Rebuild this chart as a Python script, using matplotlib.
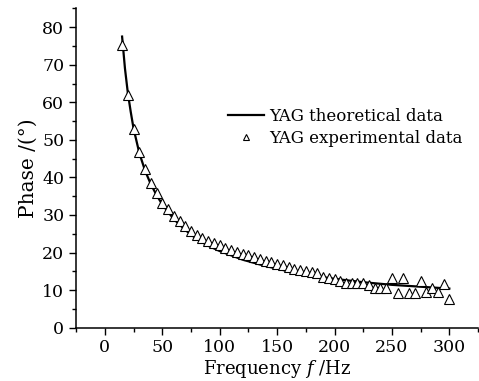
import matplotlib.pyplot as plt
from matplotlib.ticker import MultipleLocator

# theoretical curve
f_theory = [15, 17.5, 20, 22.5, 25, 30, 35, 40, 45, 50, 60, 70, 80, 90, 100,
            120, 140, 160, 180, 200, 225, 250, 275, 300]
phase_theory = [77.5, 69.0, 62.5, 57.5, 53.0, 46.5, 41.8, 38.2, 35.3, 32.8, 28.9,
                26.0, 23.6, 21.8, 20.4, 18.1, 16.4, 15.0, 13.9, 13.0, 12.1, 11.4,
                10.9, 10.4]

# experimental points
f_exp = list(range(15, 305, 5))
phase_exp = [75.3, 62.0, 53.0, 46.8, 42.3, 38.6, 35.8, 33.3, 31.5, 29.8,
             28.3, 27.0, 25.8, 24.8, 23.8, 23.2, 22.5, 22.0, 21.3, 20.7,
             20.1, 19.7, 19.3, 18.8, 18.3, 17.8, 17.4, 17.0, 16.6, 16.1,
             15.6, 15.3, 15.0, 14.8, 14.5, 13.5, 13.2, 13.0, 12.4, 12.0,
             11.9, 11.8, 11.9, 11.4, 10.6, 10.5, 10.5, 13.2, 9.3, 13.2,
             9.3, 9.3, 12.4, 9.5, 10.6, 9.4, 11.6, 7.5]

plt.rcParams['font.family'] = 'DejaVu Serif'
plt.rcParams['mathtext.fontset'] = 'dejavuserif'

fig = plt.figure(figsize=(4.79, 3.81), dpi=100)
ax = fig.add_axes([0.159, 0.140, 0.839, 0.838])

ax.plot(f_theory, phase_theory, color='black', lw=1.6, label='YAG theoretical data')
ax.plot(f_exp, phase_exp, ls='none', marker='^', ms=7.5, mfc='white', mec='black',
        mew=0.8, label='YAG experimental data')

ax.set_xlim(-25, 325)
ax.set_ylim(0, 85)
ax.xaxis.set_major_locator(MultipleLocator(50))
ax.xaxis.set_minor_locator(MultipleLocator(25))
ax.yaxis.set_major_locator(MultipleLocator(10))
ax.yaxis.set_minor_locator(MultipleLocator(5))
ax.tick_params(which='major', direction='out', length=5, width=1, labelsize=12.5)
ax.tick_params(which='minor', direction='out', length=3, width=1)

for s in ['top', 'right']:
    ax.spines[s].set_visible(False)
for s in ['left', 'bottom']:
    ax.spines[s].set_linewidth(1.1)

ax.set_xlabel('Frequency $f$ /Hz', fontsize=13, labelpad=1)
ax.set_ylabel('Phase /(°)', fontsize=14.5, labelpad=3)

ax.legend(loc='upper left', bbox_to_anchor=(0.36, 0.71), frameon=False,
          fontsize=12, handlelength=2.2, handletextpad=0.3, markerscale=0.6,
          borderaxespad=0, labelspacing=0.3)

fig.savefig('out.png', dpi=100)
